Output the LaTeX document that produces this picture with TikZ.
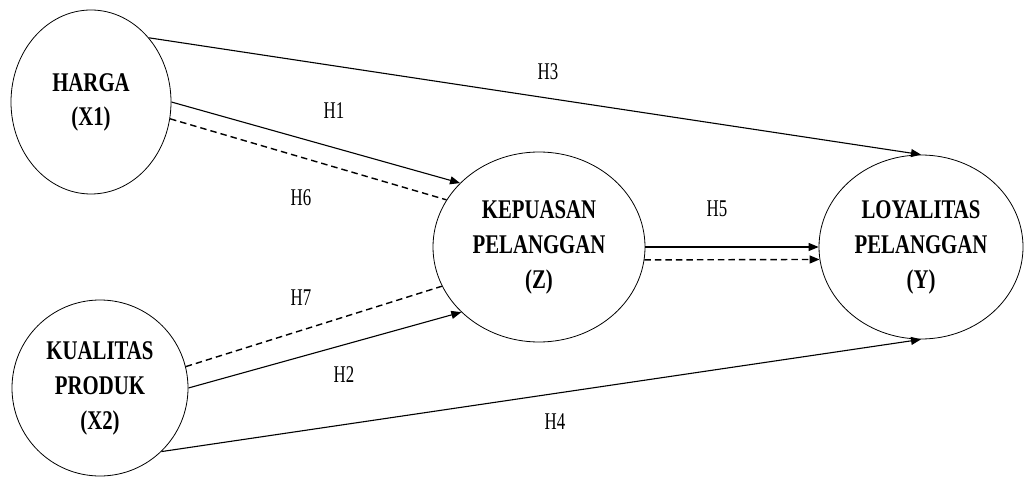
\documentclass[tikz,border=0pt]{standalone}
\usepackage{fontspec}
\setmainfont{Liberation Serif}
\newfontfamily\nodefont{Liberation Serif}[FakeStretch=0.77]
\newfontfamily\labfont{Liberation Serif}[FakeStretch=0.7]
\usetikzlibrary{shapes.geometric,arrows.meta}
\begin{document}
\begin{tikzpicture}[x=1pt,y=-1pt,
  var/.style={ellipse,draw,line width=0.8pt,inner sep=0pt,align=center,
    font=\nodefont\bfseries\fontsize{27}{35}\selectfont},
  hyp/.style={font=\labfont\fontsize{24}{28}\selectfont,inner sep=0pt},
  conn/.style={line width=1.1pt},
  arr/.style={conn,-{Triangle[length=10pt,width=8pt]}},
  dsh/.style={line width=1.4pt,dash pattern=on 6.5pt off 4pt}]
\useasboundingbox (0,0) rectangle (1024,478);
\node[var,minimum width=160pt,minimum height=184pt] (harga) at (91,102)
  {\raisebox{-9pt}{\begin{tabular}{@{}c@{}}HARGA\\[-1pt](X1)\end{tabular}}};
\node[var,minimum width=176pt,minimum height=176pt] (kual) at (100,388)
  {KUALITAS\\PRODUK\\(X2)};
\node[var,minimum width=212pt,minimum height=190pt] (kep) at (539,247)
  {KEPUASAN\\PELANGGAN\\(Z)};
\node[var,minimum width=204pt,minimum height=184pt] (loy) at (921,247)
  {LOYALITAS\\PELANGGAN\\(Y)};
% connectors
\draw[arr] (harga.48) -- (loy.north);
\draw[arr] (harga.east) -- (kep.141);
\draw[dsh] (harga.-12.7) -- (kep.153.2);
\draw[dsh] (kual.14.2) -- (kep.202.6);
\draw[arr] (kual.east) -- (kep.220.1);
\draw[arr] (kual.314.5) -- (loy.south);
\draw[arr] (kep.east) -- (loy.west);
\draw[dsh,-{Triangle[length=10pt,width=8pt]}] (kep.-7) -- (loy.187.3);
% labels
\node[hyp] (h3) at (548,72) {H3};
\node[hyp] (h1) at (334,111) {H1};
\node[hyp] (h6) at (301,198) {H6};
\node[hyp] (h5) at (717,209) {H5};
\node[hyp] (h7) at (301,298) {H7};
\node[hyp] (h2) at (344,375) {H2};
\node[hyp] (h4) at (555,422) {H4};
\end{tikzpicture}
\end{document}
